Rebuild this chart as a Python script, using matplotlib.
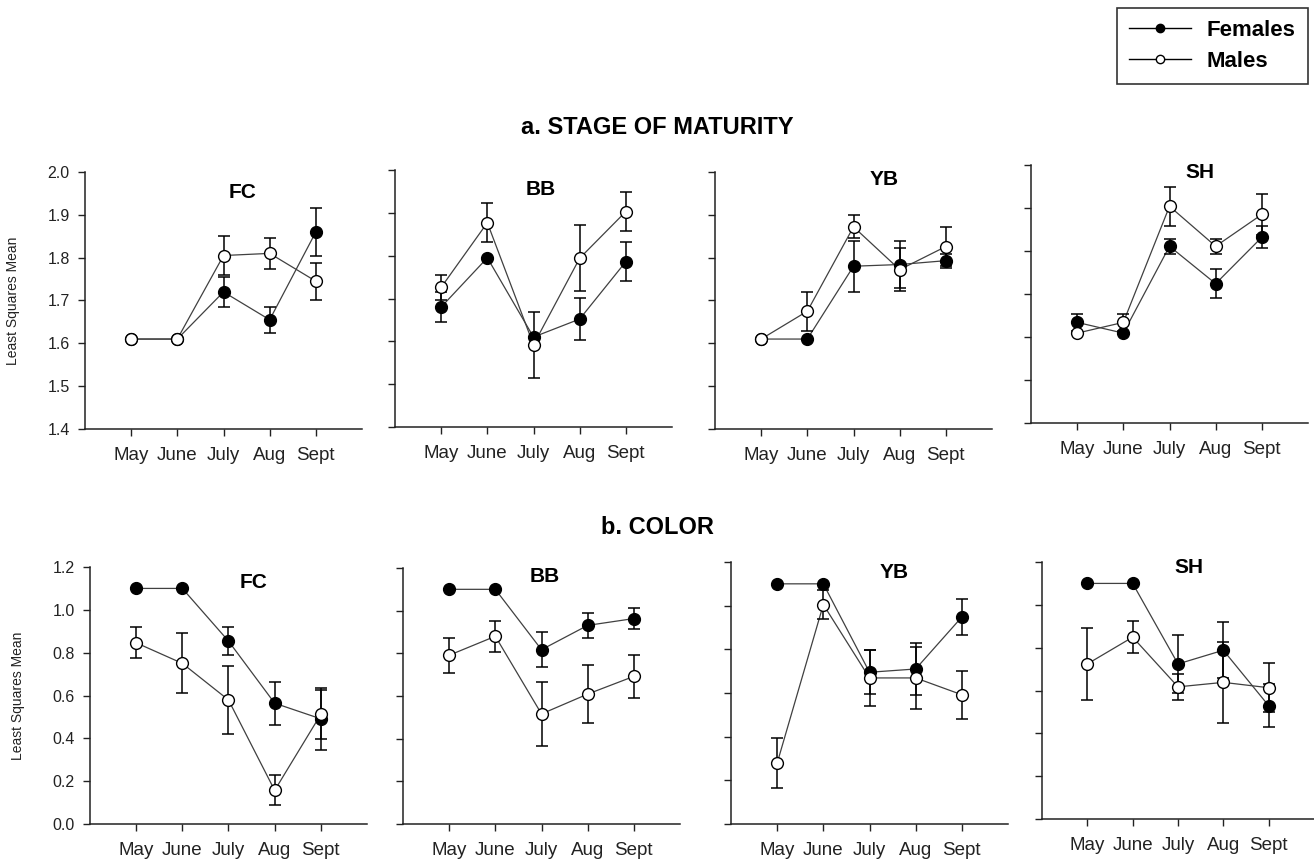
import numpy as np
import matplotlib
matplotlib.use("Agg")
import matplotlib.pyplot as plt
from matplotlib.lines import Line2D

plt.rcParams['font.family'] = ['Liberation Sans', 'DejaVu Sans']

nan = np.nan
months = ["May", "June", "July", "Aug", "Sept"]
sites = ["FC", "BB", "YB", "SH"]

# a. stage of maturity (least squares means, +/- error)
mat_fem = {
    "FC": [1.61, 1.61, 1.72, 1.655, 1.86],
    "BB": [1.68, 1.795, 1.61, 1.652, 1.786],
    "YB": [1.61, 1.61, 1.78, 1.784, 1.793],
    "SH": [1.634, 1.609, 1.811, 1.724, 1.832],
}
mat_fem_err = {
    "FC": [nan, nan, 0.035, 0.03, 0.057],
    "BB": [0.035, nan, nan, 0.05, 0.046],
    "YB": [nan, nan, 0.06, 0.054, 0.016],
    "SH": [0.02, nan, 0.018, 0.033, 0.025],
}
mat_male = {
    "FC": [1.61, 1.61, 1.805, 1.81, 1.745],
    "BB": [1.726, 1.877, 1.592, 1.794, 1.903],
    "YB": [1.61, 1.675, 1.872, 1.772, 1.826],
    "SH": [1.609, 1.634, 1.904, 1.811, 1.885],
}
mat_male_err = {
    "FC": [nan, nan, 0.045, 0.037, 0.043],
    "BB": [0.03, 0.046, 0.077, 0.077, 0.045],
    "YB": [nan, 0.046, 0.027, 0.05, 0.046],
    "SH": [nan, 0.02, 0.045, 0.018, 0.047],
}

# b. color
col_fem = {
    "FC": [1.10, 1.10, 0.854, 0.564, 0.491],
    "BB": [1.10, 1.10, 0.817, 0.931, 0.963],
    "YB": [1.10, 1.10, 0.695, 0.71, 0.948],
    "SH": [1.10, 1.10, 0.724, 0.788, 0.529],
}
col_fem_err = {
    "FC": [nan, nan, 0.066, 0.10, 0.146],
    "BB": [nan, nan, 0.083, 0.06, 0.05],
    "YB": [nan, nan, 0.10, 0.12, 0.084],
    "SH": [nan, nan, 0.135, 0.13, 0.10],
}
col_male = {
    "FC": [0.846, 0.750, 0.579, 0.157, 0.512],
    "BB": [0.791, 0.880, 0.516, 0.609, 0.692],
    "YB": [0.279, 1.005, 0.669, 0.669, 0.592],
    "SH": [0.724, 0.849, 0.617, 0.638, 0.613],
}
col_male_err = {
    "FC": [0.072, 0.14, 0.157, 0.07, 0.115],
    "BB": [0.082, 0.073, 0.151, 0.137, 0.10],
    "YB": [0.114, 0.066, 0.13, 0.14, 0.11],
    "SH": [0.17, 0.075, 0.06, 0.19, 0.115],
}

W, H = 1314, 864
fig = plt.figure(figsize=(W / 100, H / 100), dpi=100)


def px_rect(left, top, right, bottom):
    return [left / W, 1 - bottom / H, (right - left) / W, (bottom - top) / H]


# pixel boxes of the panels (left, top, right, bottom)
top_boxes = [(85, 172, 362, 429), (395, 170, 672, 427), (715, 172, 992, 429), (1031, 165, 1308, 423)]
bot_boxes = [(90, 567, 367, 824), (403, 568, 680, 824), (731, 562, 1008, 824), (1042, 562, 1314, 819)]
top_title_pos = [(0.57, 0.92), (0.525, 0.925), (0.61, 0.97), (0.61, 0.97)]
bot_title_pos = [(0.59, 0.94), (0.51, 0.965), (0.59, 0.96), (0.54, 0.98)]

x = np.arange(1, 6)


def draw_panel(ax, fem, fem_err, male, male_err, ylim, yticks, fmt, first, title, tpos):
    ax.plot(x, fem, color='#404040', lw=0.9, zorder=2)
    ax.plot(x, male, color='#404040', lw=0.9, zorder=2)
    ax.errorbar(x, fem, yerr=fem_err, fmt='none', ecolor='black', elinewidth=1.1,
                capsize=4, capthick=1.1, zorder=3)
    ax.errorbar(x, male, yerr=male_err, fmt='none', ecolor='black', elinewidth=1.1,
                capsize=4, capthick=1.1, zorder=3)
    ax.plot(x, fem, 'o', ms=8.5, mfc='black', mec='black', mew=1, zorder=4)
    ax.plot(x, male, 'o', ms=8.5, mfc='white', mec='black', mew=1, zorder=5)

    ax.set_xlim(0, 6)
    ax.set_ylim(*ylim)
    ax.set_xticks(x)
    ax.set_xticklabels(months, fontsize=13.5, color='#222222')
    ax.set_yticks(yticks)
    if first:
        ax.set_yticklabels([fmt.format(v) for v in yticks], fontsize=11.5, color='#222222')
        ax.set_ylabel("Least Squares Mean", fontsize=10, color='#222222')
        ax.yaxis.set_label_coords(-0.235, 0.5)
    else:
        ax.set_yticklabels([])
    for side in ['top', 'right']:
        ax.spines[side].set_visible(False)
    for side in ['left', 'bottom']:
        ax.spines[side].set_linewidth(1.1)
        ax.spines[side].set_color('#222222')
    ax.tick_params(axis='both', direction='out', length=5, width=1, color='#222222')
    ax.tick_params(axis='x', pad=8)
    ax.tick_params(axis='y', pad=6)
    ax.text(tpos[0], tpos[1], title, transform=ax.transAxes, ha='center', va='center',
            fontsize=15, fontweight='bold')


for i, s in enumerate(sites):
    ax = fig.add_axes(px_rect(*top_boxes[i]))
    draw_panel(ax, mat_fem[s], mat_fem_err[s], mat_male[s], mat_male_err[s],
               (1.4, 2.0), np.arange(1.4, 2.01, 0.1), "{:.1f}", i == 0, s, top_title_pos[i])

for i, s in enumerate(sites):
    ax = fig.add_axes(px_rect(*bot_boxes[i]))
    draw_panel(ax, col_fem[s], col_fem_err[s], col_male[s], col_male_err[s],
               (0.0, 1.2), np.arange(0.0, 1.21, 0.2), "{:.1f}", i == 0, s, bot_title_pos[i])

fig.text(657 / W, 1 - 127 / H, "a. STAGE OF MATURITY", ha='center', va='center',
         fontsize=17, fontweight='bold')
fig.text(657 / W, 1 - 528 / H, "b. COLOR", ha='center', va='center',
         fontsize=17, fontweight='bold')

handles = [
    Line2D([], [], color='black', lw=1, marker='o', ms=6, mfc='black', mec='black'),
    Line2D([], [], color='black', lw=1, marker='o', ms=6, mfc='white', mec='black'),
]
leg = fig.legend(handles, ["Females", "Males"], loc='upper right',
                 bbox_to_anchor=(1308 / W, 1 - 8 / H), borderaxespad=0,
                 frameon=True, fancybox=False, edgecolor='black',
                 handlelength=2.8, handletextpad=0.7, borderpad=0.55, labelspacing=0.45,
                 prop={'weight': 'bold', 'size': 16})
leg.get_frame().set_linewidth(1.2)

fig.savefig("out.png", dpi=100)
